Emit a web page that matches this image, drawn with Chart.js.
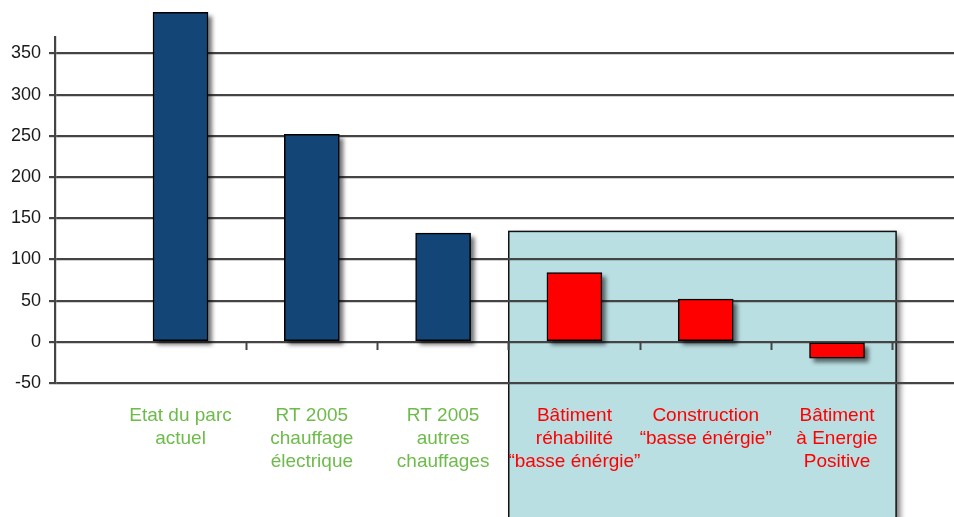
<!DOCTYPE html>
<html>
<head>
<meta charset="utf-8">
<script src="https://cdn.jsdelivr.net/npm/chart.js@4"></script>
<style>
  html, body { margin: 0; padding: 0; background: #fff; }
  #wrap { width: 954px; height: 517px; }
</style>
</head>
<body>
<div id="wrap"><canvas id="canvas"></canvas></div>
<script>
const categories = [
    ['Etat du parc', 'actuel'],
    ['RT 2005', 'chauffage', 'électrique'],
    ['RT 2005', 'autres', 'chauffages'],
    ['Bâtiment', 'réhabilité', '“basse énérgie”'],
    ['Construction', '“basse énérgie”'],
    ['Bâtiment', 'à Energie', 'Positive']
]
const values = [400, 252, 132, 84, 52, -20]
const barColors = ['#134677', '#134677', '#134677', '#ff0000', '#ff0000', '#ff0000']
const labelColors = ['#6dbb4a', '#6dbb4a', '#6dbb4a', '#ff0000', '#ff0000', '#ff0000']
const boundaries = [0.5, 1.5, 2.5, 3.5, 4.5, 5.42]

const GRID = '#444444'

// blue box behind the three last categories
const boxPlugin = {
    id: 'box',
    beforeDraw(chart) {
        const ctx = chart.ctx
        const x = chart.scales.x, y = chart.scales.y
        const left = x.getPixelForValue(2.5)
        const right = x.getPixelForValue(5.45)
        const top = y.getPixelForValue(134)
        const bottom = chart.height + 5
        ctx.save()
        ctx.shadowColor = 'rgba(0,0,0,0.55)'
        ctx.shadowBlur = 6
        ctx.shadowOffsetX = 4
        ctx.shadowOffsetY = 4
        ctx.fillStyle = '#badfe3'
        ctx.fillRect(left, top, right - left, bottom - top)
        ctx.shadowColor = 'transparent'
        ctx.lineWidth = 1.5
        ctx.strokeStyle = '#111'
        ctx.strokeRect(left, top, right - left, bottom - top)
        ctx.restore()
    }
}

// drop shadow behind bars (bar element clips its own shadow, so draw it first)
const shadowPlugin = {
    id: 'barShadow',
    beforeDatasetsDraw(chart) {
        const ctx = chart.ctx
        ctx.save()
        ctx.fillStyle = 'rgba(0,0,0,0.55)'
        ctx.filter = 'blur(2px)'
        chart.getDatasetMeta(0).data.forEach(bar => {
            const p = bar.getProps(['x', 'y', 'base', 'width'], true)
            const top = Math.min(p.y, p.base)
            const h = Math.abs(p.base - p.y)
            ctx.fillRect(p.x - p.width / 2 + 4, top + 4, p.width, h)
        })
        ctx.restore()
    }
}

const data = {
    datasets: [{
        data: values.map((v, i) => ({ x: i, y: v })),
        backgroundColor: barColors,
        borderColor: '#000',
        borderWidth: 1.5,
        borderSkipped: false,
        barThickness: 55,
        clip: false
    }]
}

const config = {
    type: 'bar',
    data: data,
    plugins: [boxPlugin, shadowPlugin],
    options: {
        responsive: true,
        maintainAspectRatio: false,
        animation: false,
        layout: { padding: { top: 37, left: 0, right: 0, bottom: 0 } },
        plugins: {
            legend: { display: false },
            tooltip: { enabled: false }
        },
        scales: {
            x: {
                type: 'linear',
                min: -0.956,
                max: 5.891,
                offset: false,
                position: 'bottom',
                grid: { display: false, offset: false },
                border: { display: false },
                ticks: {
                    stepSize: 1,
                    includeBounds: false,
                    autoSkip: false,
                    maxRotation: 0,
                    padding: 13,
                    color: ctx => labelColors[ctx.index],
                    font: { family: 'Liberation Sans, Arial, sans-serif', size: 19, lineHeight: 1.21 },
                    callback: v => categories[v]
                },
                afterFit: scale => { scale.height = 134 }
            },
            x2: {
                type: 'linear',
                min: -0.956,
                max: 5.891,
                offset: false,
                position: { y: 0 },
                grid: {
                    offset: false,
                    drawOnChartArea: false,
                    drawTicks: true,
                    tickLength: 8,
                    tickWidth: 2,
                    tickColor: GRID
                },
                border: { display: false },
                ticks: { display: false },
                afterBuildTicks: scale => { scale.ticks = boundaries.map(v => ({ value: v })) }
            },
            y: {
                min: -50,
                max: 370,
                grid: {
                    color: GRID,
                    lineWidth: 2.2,
                    tickLength: 6,
                    tickColor: GRID
                },
                border: { display: true, color: GRID, width: 2.2 },
                ticks: {
                    stepSize: 50,
                    includeBounds: false,
                    padding: 8,
                    color: '#1a1a1a',
                    font: { family: 'Liberation Sans, Arial, sans-serif', size: 18 }
                },
                afterFit: scale => { scale.width = 55 }
            }
        }
    }
}

const canvas = document.getElementById('canvas')
const chart = new Chart(canvas, config)
</script>
</body>
</html>
